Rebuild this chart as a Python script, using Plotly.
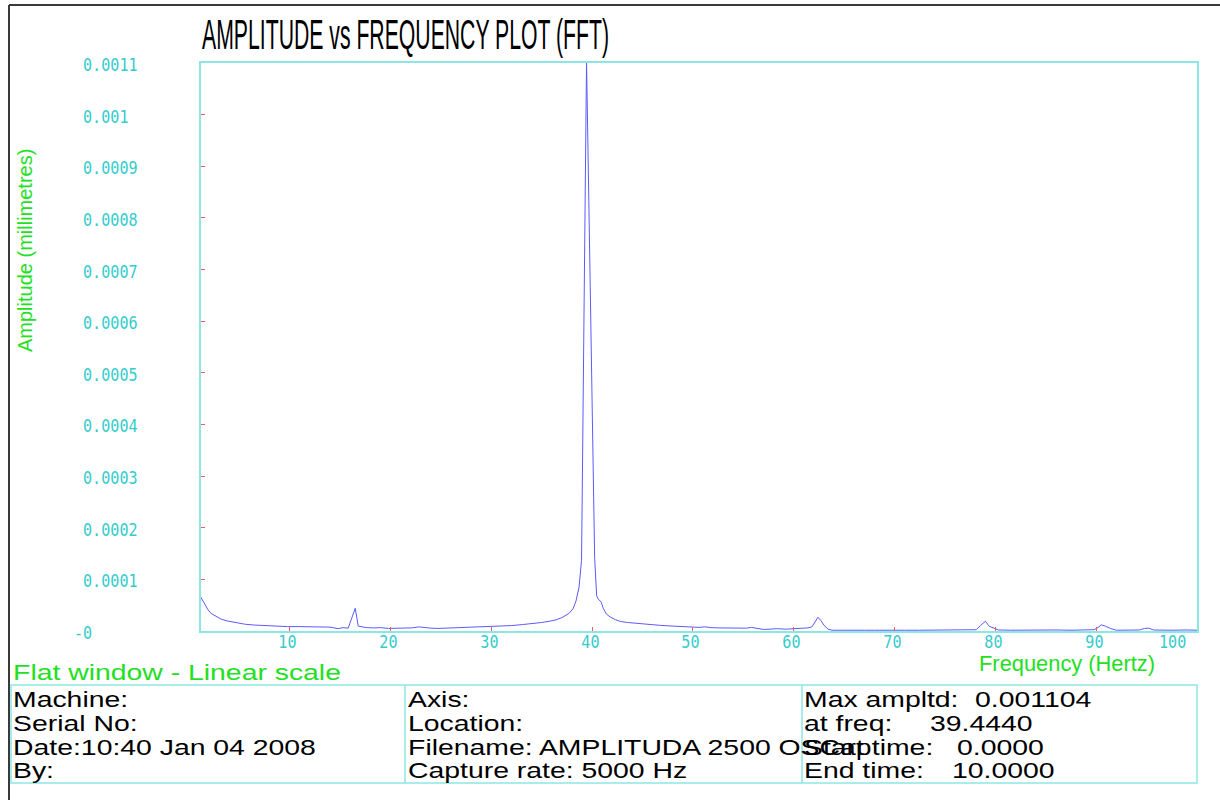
import json
import plotly.graph_objects as go

# Spectrum samples: frequency (Hz) and amplitude (mm)
freq_hz = [
    1.2, 1.5, 1.9, 2.2, 2.6, 3.2, 3.8, 4.8, 5.6, 6.5, 7.5, 8.5, 9.8, 11.0, 12.2,
    13.2, 14.0, 14.8, 15.3, 15.8, 16.5, 16.8, 17.2, 17.6, 18.3, 19.0, 19.8, 20.6,
    21.4, 22.1, 22.8, 23.3, 24.0, 24.8, 25.6, 26.5, 27.4, 28.4, 29.8, 31.0, 32.0,
    33.1, 34.0, 35.0, 35.8, 36.4, 37.0, 37.7, 38.1, 38.4, 38.7, 38.95, 39.444,
    40.25, 40.45, 40.6, 40.9, 41.1, 41.4, 41.8, 42.3, 42.8, 43.5, 44.5, 45.5, 46.7,
    48.0, 49.0, 50.0, 50.6, 51.2, 51.8, 52.6, 53.5, 54.5, 55.3, 55.8, 56.3, 57.0,
    57.6, 58.3, 59.2, 60.0, 60.8, 61.4, 61.8, 62.1, 62.4, 62.7, 63.0, 63.4, 63.8,
    64.6, 65.5, 66.4, 67.0, 68.0, 69.5, 71.0, 72.5, 74.0, 75.5, 77.0, 78.1, 78.5,
    79.0, 79.4, 79.8, 80.3, 81.5, 83.0, 84.5, 86.0, 87.5, 89.0, 89.8, 90.2, 90.5,
    90.9, 91.4, 92.0, 93.0, 94.3, 94.8, 95.2, 95.7, 96.2, 97.5, 99.0, 100.0,
]
amplitude_mm = [
    65e-6, 54e-6, 41e-6, 34e-6, 29e-6, 23e-6, 19.5e-6, 15.5e-6, 13e-6, 11.5e-6,
    10.5e-6, 9.5e-6, 8.5e-6, 8.5e-6, 8.0e-6, 7.5e-6, 7.5e-6, 4.5e-6, 6.5e-6,
    5.5e-6, 44e-6, 9.5e-6, 7.5e-6, 6.5e-6, 6.0e-6, 6.5e-6, 5.0e-6, 5.5e-6,
    5.5e-6, 6.0e-6, 8.0e-6, 6.5e-6, 5.5e-6, 5.0e-6, 5.5e-6, 6.0e-6, 6.5e-6,
    7.5e-6, 8.0e-6, 9.0e-6, 10.5e-6, 12.5e-6, 14e-6, 16.5e-6, 19e-6, 21.5e-6,
    26e-6, 34e-6, 43e-6, 58e-6, 85e-6, 137e-6, 1104e-6,
    141e-6, 68e-6, 62e-6, 56e-6, 44e-6, 33e-6, 27e-6, 22e-6, 18.5e-6, 16.5e-6,
    14.5e-6, 12.5e-6, 11e-6, 9.5e-6, 8.5e-6, 7e-6, 7e-6, 8e-6, 6.5e-6, 6e-6,
    5.5e-6, 5e-6, 5.5e-6, 7e-6, 5.5e-6, 3e-6, 3.5e-6, 4.5e-6, 3.5e-6, 4e-6,
    5e-6, 6e-6, 8e-6, 17e-6, 26.5e-6, 20e-6, 11e-6, 3.5e-6, 1.5e-6,
    1.5e-6, 2e-6, 2.5e-6, 1.5e-6, 1.5e-6, 2e-6, 1.5e-6, 1.5e-6, 2e-6, 1.5e-6,
    2e-6, 2.5e-6, 10e-6, 19e-6, 9e-6, 6e-6, 2e-6, 1.5e-6, 2e-6, 1.5e-6, 2e-6,
    1.5e-6, 2e-6, 2.5e-6, 7e-6, 12e-6, 9.5e-6, 5e-6, 1.5e-6, 1.5e-6, 2e-6,
    5e-6, 5.5e-6, 2e-6, 1.5e-6, 1.5e-6, 2e-6, 1.5e-6,
]

y_tick_values = [0, 0.0001, 0.0002, 0.0003, 0.0004, 0.0005, 0.0006,
                 0.0007, 0.0008, 0.0009, 0.001, 0.0011]
y_tick_labels = ["-0", "0.0001", "0.0002", "0.0003", "0.0004", "0.0005", "0.0006",
                 "0.0007", "0.0008", "0.0009", "0.001", "0.0011"]
x_tick_values = [10, 20, 30, 40, 50, 60, 70, 80, 90, 100]
x_tick_labels = ["10", "20", "30", "40", "50", "60", "70", "80", "90", "100"]

info_left = ["Machine:", "Serial No:", "Date:10:40 Jan 04 2008", "By:"]
info_mid = ["Axis:", "Location:", "Filename: AMPLITUDA 2500 OSCap",
            "Capture rate: 5000 Hz"]
info_right_labels = ["Max ampltd:", "at freq:", "Start time:", "End time:"]
info_right_values = ["0.001104", "39.4440", "0.0000", "10.0000"]

# Page geometry (pixels)
W, H = 1220, 800
L, R, T, B = 201, 1197, 63, 631


def px(x):
    return (x - L) / (R - L)


def py(y):
    return (B - y) / (B - T)


CYAN = "#33cccc"
BOX = "#8ce6e6"
GREEN = "#22e022"
TICK = "#ff5a5a"
TRACE = "#5b5bff"
SANS = "Liberation Sans, Arial, sans-serif"
MONO = "DejaVu Sans Mono, monospace"

fig = go.Figure()
fig.add_trace(go.Scatter(
    x=freq_hz, y=amplitude_mm, mode="lines",
    line=dict(color=TRACE, width=1), hoverinfo="x+y", showlegend=False,
))

annotations = []
stretch = {}  # annotation index -> [scale x, scale y, origin]


def add_ann(scale=None, **kw):
    if scale is not None:
        stretch[str(len(annotations))] = scale
    annotations.append(kw)


# Title
add_ann(scale=[0.505, 1, "left"],
        text="AMPLITUDE vs FREQUENCY PLOT (FFT)", xref="paper", yref="paper",
        x=px(200), y=py(34), xanchor="left", yanchor="middle", showarrow=False,
        font=dict(family=SANS, size=42, color="black"))

# Y tick labels (left aligned)
for v, t in zip(y_tick_values, y_tick_labels):
    add_ann(scale=[1.08, 1.3, "left"],
            text=t, xref="paper", yref="y", x=px(72 if t == "-0" else 81), y=v,
            xanchor="left", yanchor="middle", yshift=-1, showarrow=False,
            font=dict(family=MONO, size=14, color=CYAN))

# X tick labels
for v, t in zip(x_tick_values, x_tick_labels):
    last = v == x_tick_values[-1]
    add_ann(scale=[1.08, 1.3, "right" if last else "center"],
            text=t, xref="x", yref="paper", x=v, y=py(641),
            xanchor="right" if last else "center", xshift=-9 if last else -2,
            yanchor="middle", showarrow=False,
            font=dict(family=MONO, size=14, color=CYAN))

# Axis titles
add_ann(text="Amplitude (millimetres)", xref="paper", yref="paper",
        x=px(25), y=py(251), textangle=-90, xanchor="center", yanchor="middle",
        showarrow=False, font=dict(family=SANS, size=20, color=GREEN))
add_ann(scale=[1.15, 1.15, "left"],
        text="Frequency (Hertz)", xref="paper", yref="paper",
        x=px(977), y=py(663), xanchor="left", yanchor="middle",
        showarrow=False, font=dict(family=SANS, size=19, color=GREEN))
add_ann(scale=[1.29, 1, "left"],
        text="Flat window - Linear scale", xref="paper", yref="paper",
        x=px(11), y=py(672), xanchor="left", yanchor="middle",
        showarrow=False, font=dict(family=SANS, size=22, color=GREEN))

# Info table text
row_y = [699, 723, 747, 771]
for col_x, rows in ((11, info_left), (406, info_mid), (802, info_right_labels)):
    for yy, t in zip(row_y, rows):
        add_ann(scale=[1.29, 1, "left"],
                text=t, xref="paper", yref="paper", x=px(col_x), y=py(yy),
                xanchor="left", yanchor="middle", showarrow=False,
                font=dict(family=SANS, size=22, color="black"))
for yy, vx, t in zip(row_y, (973, 928, 955, 950), info_right_values):
    add_ann(scale=[1.29, 1, "left"],
            text=t, xref="paper", yref="paper", x=px(vx), y=py(yy),
            xanchor="left", yanchor="middle", showarrow=False,
            font=dict(family=SANS, size=22, color="black"))

shapes = [
    # outer page frame (top and left edges)
    dict(type="line", xref="paper", yref="paper", x0=px(9), x1=px(1222),
         y0=py(5), y1=py(5), line=dict(color="#3a3a3a", width=2)),
    dict(type="line", xref="paper", yref="paper", x0=px(9), x1=px(9),
         y0=py(5), y1=py(802), line=dict(color="#3a3a3a", width=2)),
    # info table
    dict(type="rect", xref="paper", yref="paper", x0=px(11), x1=px(1197),
         y0=py(685), y1=py(783), line=dict(color=BOX, width=1.5)),
    dict(type="line", xref="paper", yref="paper", x0=px(405), x1=px(405),
         y0=py(685), y1=py(783), line=dict(color=BOX, width=1.5)),
    dict(type="line", xref="paper", yref="paper", x0=px(802), x1=px(802),
         y0=py(685), y1=py(783), line=dict(color=BOX, width=1.5)),
]

axis_common = dict(showgrid=False, zeroline=False, showline=True, mirror=True,
                   linecolor=BOX, linewidth=2, ticks="inside", ticklen=4,
                   tickwidth=1, tickcolor=TICK, showticklabels=False)

fig.update_layout(
    width=W, height=H, autosize=False,
    margin=dict(l=L, r=W - R, t=T, b=H - B, pad=0),
    paper_bgcolor="white", plot_bgcolor="white",
    xaxis=dict(range=[1.2, 100.0], tickvals=x_tick_values, **axis_common),
    yaxis=dict(range=[0, 0.0011], tickvals=y_tick_values, **axis_common),
    annotations=annotations, shapes=shapes, showlegend=False,
)

post = """
var gd = document.getElementById('{plot_id}');
var sc = %s;
gd.querySelectorAll('g.annotation').forEach(function (g) {
  var s = sc[g.getAttribute('data-index')];
  if (!s) { return; }
  var t = g.querySelector('text.annotation-text');
  if (!t) { return; }
  t.style.transformBox = 'fill-box';
  t.style.transformOrigin = s[2] + ' center';
  t.style.transform = 'scale(' + s[0] + ',' + s[1] + ')';
});
""" % json.dumps(stretch)

fig.write_html("out.html", post_script=post)
